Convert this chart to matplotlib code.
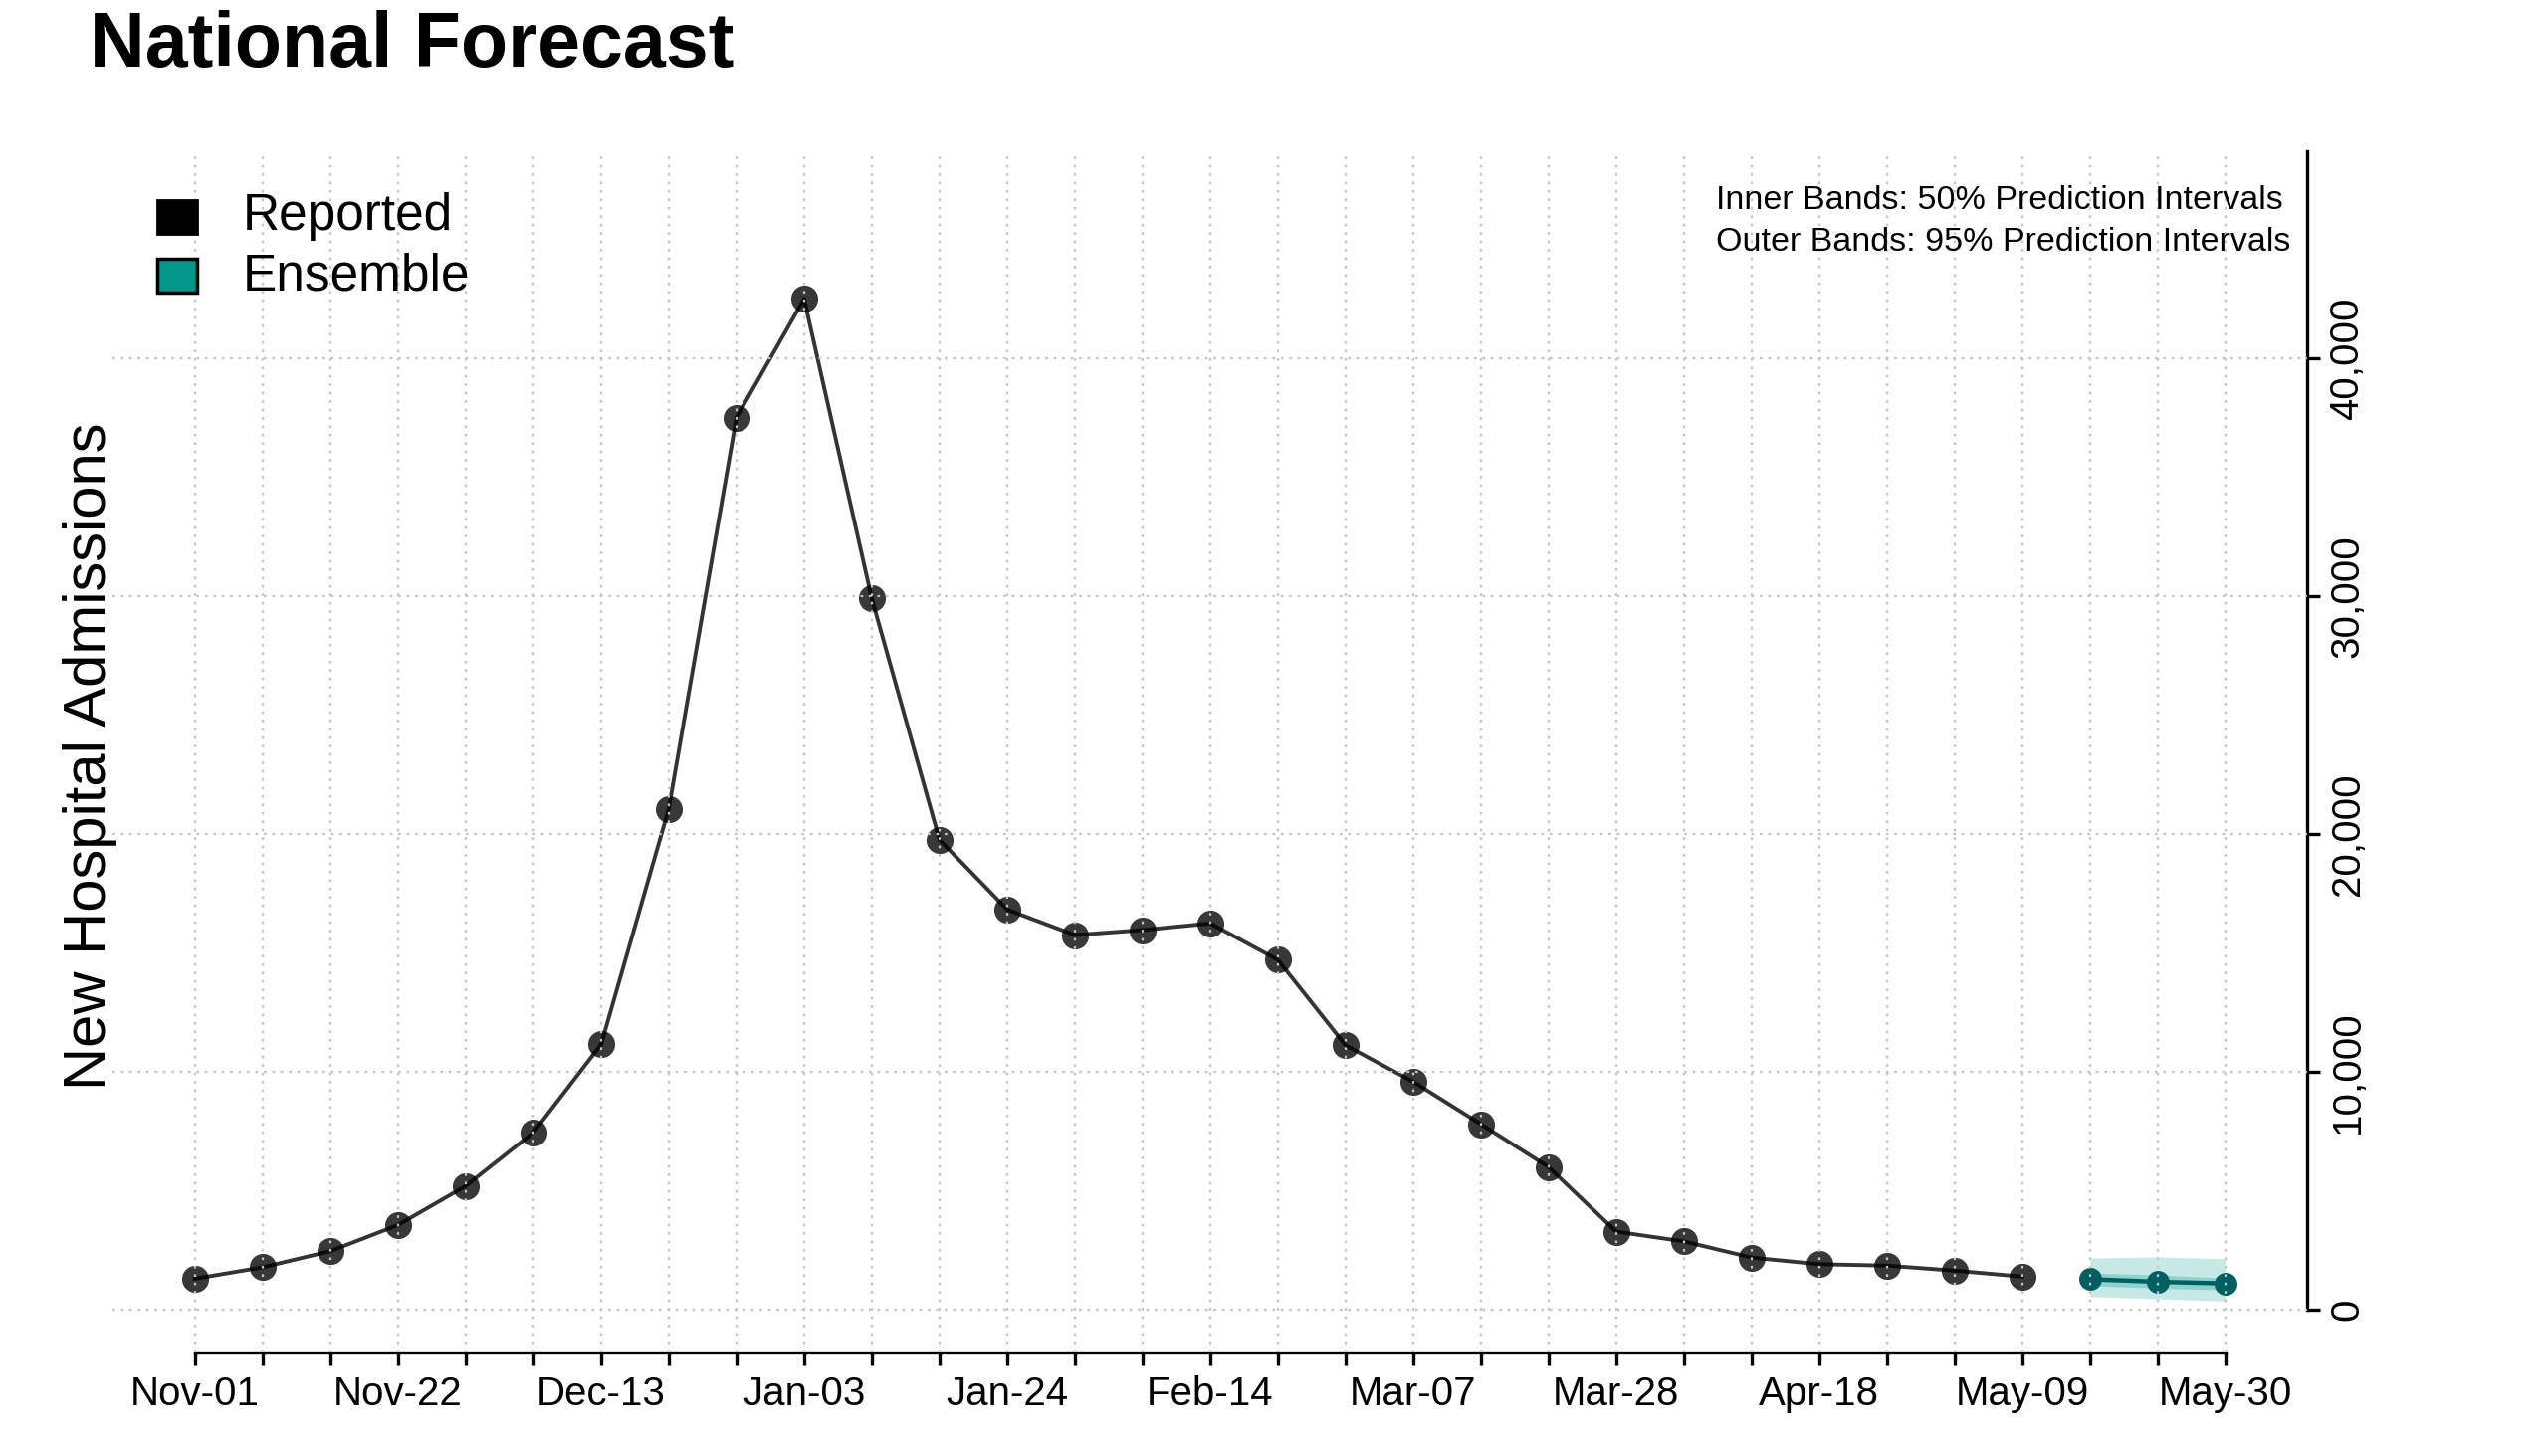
import matplotlib
matplotlib.use("Agg")
import matplotlib.pyplot as plt
from matplotlib.patches import Rectangle
import numpy as np

plt.rcParams['font.family'] = ['Liberation Sans', 'DejaVu Sans']

# ---------------- data ----------------
week_labels = ["Nov-01", "Nov-22", "Dec-13", "Jan-03", "Jan-24", "Feb-14",
               "Mar-07", "Mar-28", "Apr-18", "May-09", "May-30"]
reported = [1300, 1780, 2460, 3560, 5200, 7450, 11150, 21060, 37500, 42500,
            29900, 19760, 16820, 15750, 15960, 16240, 14710, 11120, 9580,
            7800, 6000, 3280, 2870, 2190, 1910, 1850, 1640, 1390]
ens_median = [1280, 1170, 1100]
ens_lo50 = [1010, 900, 830]
ens_hi50 = [1540, 1460, 1330]
ens_lo95 = [550, 460, 360]
ens_hi95 = [2170, 2220, 2140]
y_ticks = [0, 10000, 20000, 30000, 40000]

n_rep = len(reported)
x_rep = np.arange(n_rep)
x_ens = np.arange(n_rep, n_rep + len(ens_median))
n_weeks = n_rep + len(ens_median)

W, H = 2560, 1463
fig = plt.figure(figsize=(W / 100, H / 100), dpi=100)
ax = fig.add_axes([113 / W, 1 - 1359 / H, (2318 - 113) / W, (1359 - 152) / H])

ax.set_xlim(-1.22, 31.21)
ax.set_ylim(-1800, 48700)

# grid
grid_kw = dict(color='#c4c4c4', linestyle=(0, (1.2, 2.6)), linewidth=1.6, zorder=3)
for xv in range(n_weeks):
    ax.axvline(xv, **grid_kw)
for yv in y_ticks:
    ax.axhline(yv, **grid_kw)

# reported
ax.plot(x_rep, reported, color='#333333', linewidth=2.8, zorder=2)
ax.plot(x_rep, reported, linestyle='none', marker='o', markersize=19.5,
        markerfacecolor='black', markeredgecolor='none', alpha=0.78, zorder=2.2)

# ensemble
ax.fill_between(x_ens, ens_lo95, ens_hi95, color='#c6e9e6', linewidth=0, zorder=1)
ax.fill_between(x_ens, ens_lo50, ens_hi50, color='#8ed2cc', linewidth=0, zorder=1.1)
ax.plot(x_ens, ens_median, color='#005f63', linewidth=3.2, marker='o',
        markersize=16.5, markeredgecolor='none', zorder=2.3)

# spines
for s in ['top', 'left']:
    ax.spines[s].set_visible(False)
ax.spines['bottom'].set_bounds(0, n_weeks - 1)
ax.spines['bottom'].set_linewidth(2.4)
ax.spines['right'].set_bounds(0, 48700)
ax.spines['right'].set_linewidth(2.4)

# x ticks
ax.set_xticks(np.arange(0, n_weeks, 3))
ax.set_xticklabels(week_labels)
ax.set_xticks(np.arange(n_weeks), minor=True)
ax.tick_params(axis='x', which='both', length=9.5, width=2.4, direction='out')
ax.tick_params(axis='x', which='major', labelsize=29, pad=7)

# y ticks on right
ax.yaxis.tick_right()
ax.set_yticks(y_ticks)
ax.set_yticklabels([f"{v:,}" for v in y_ticks])
ax.tick_params(axis='y', length=9.5, width=2.4, labelsize=29, pad=6)
for lab in ax.get_yticklabels():
    lab.set_rotation(90)
    lab.set_va('center')
    lab.set_ha('left')

ax.set_facecolor('none')

# title
fig.text(90 / W, 1 - 67 / H, "National Forecast", fontsize=55.5, fontweight='bold',
         ha='left', va='baseline')

# y label
fig.text(91 / W, 1 - 760 / H, "New Hospital Admissions", fontsize=43,
         rotation=90, ha='center', va='center')

# legend (manual)
sq = 40
fig.add_artist(Rectangle((158 / W, 1 - 235 / H), sq / W, sq * 0.85 / H,
                         transform=fig.transFigure, facecolor='black',
                         edgecolor='black', linewidth=2))
fig.add_artist(Rectangle((158 / W, 1 - 294 / H), sq / W, sq * 0.85 / H,
                         transform=fig.transFigure, facecolor='#00968a',
                         edgecolor='black', linewidth=2.5))
fig.text(244 / W, 1 - 217 / H, "Reported", fontsize=37, ha='left', va='center')
fig.text(244 / W, 1 - 278 / H, "Ensemble", fontsize=37, ha='left', va='center')

# annotation
fig.text(1724 / W, 1 - 202 / H, "Inner Bands: 50% Prediction Intervals",
         fontsize=24.5, ha='left', va='center')
fig.text(1724 / W, 1 - 243 / H, "Outer Bands: 95% Prediction Intervals",
         fontsize=24.5, ha='left', va='center')

fig.savefig("out.png", dpi=100, facecolor='white')
